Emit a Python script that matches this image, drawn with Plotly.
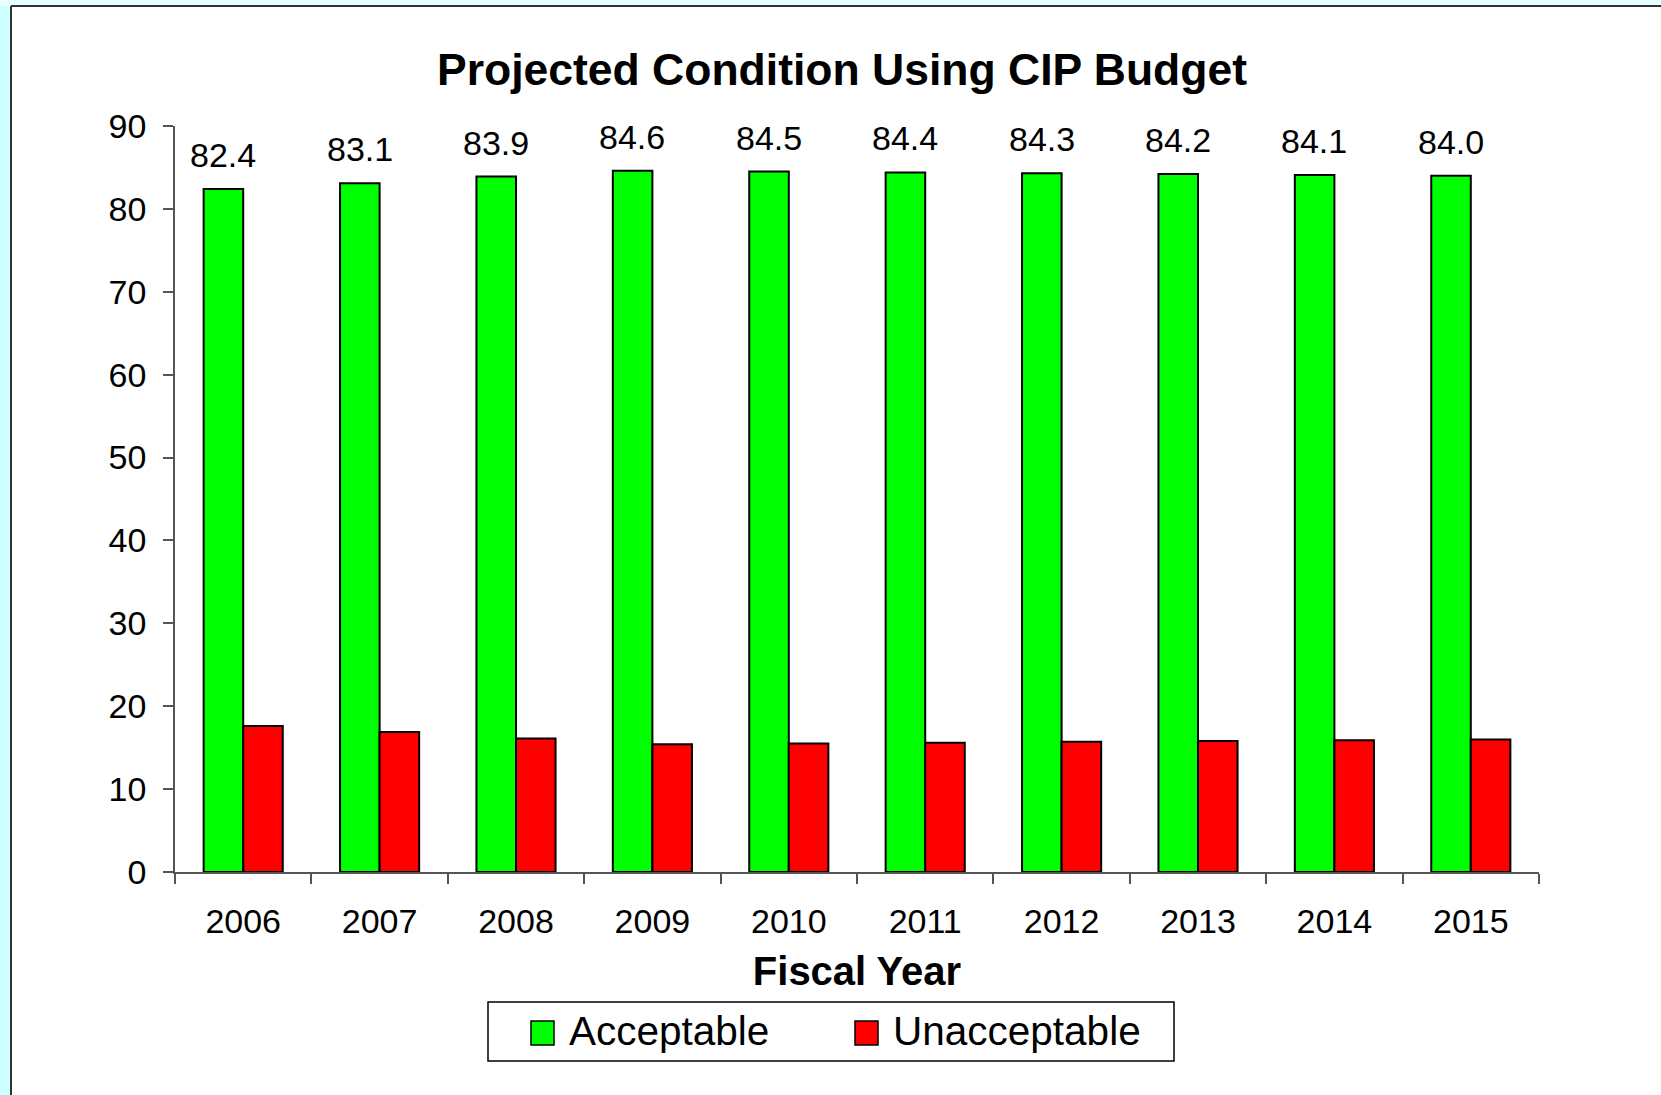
import plotly.graph_objects as go

# Data
years = ["2006", "2007", "2008", "2009", "2010", "2011", "2012", "2013", "2014", "2015"]
acceptable = [82.4, 83.1, 83.9, 84.6, 84.5, 84.4, 84.3, 84.2, 84.1, 84.0]
unacceptable = [17.6, 16.9, 16.1, 15.4, 15.5, 15.6, 15.7, 15.8, 15.9, 16.0]
series_names = ["Acceptable", "Unacceptable"]
series_colors = ["#00ff00", "#ff0000"]

FONT = "Liberation Sans, Arial, sans-serif"
W_PX, H_PX = 1661, 1095
# plot area in pixels
L, R, T, B = 175, 1539, 126, 872


def fx(px):
    return (px - L) / (R - L)


def fy(py):
    return (B - py) / (B - T)


fig = go.Figure()
for name, vals, col in zip(series_names, [acceptable, unacceptable], series_colors):
    fig.add_trace(go.Bar(
        x=years, y=vals, name=name,
        marker=dict(color=col, line=dict(color="black", width=2)),
        showlegend=False,
    ))

# value labels above the green bars (x given as category index)
annotations = []
for i, v in enumerate(acceptable):
    annotations.append(dict(
        x=i, y=v, xref="x", yref="y", text=f"{v:.1f}", showarrow=False,
        xanchor="center", yanchor="bottom", xshift=-20, yshift=13,
        font=dict(family=FONT, size=34, color="black"),
    ))

shapes = [
    # light cyan frame strips
    dict(type="rect", xref="paper", yref="paper", x0=fx(0), x1=fx(11), y0=fy(H_PX), y1=fy(0),
         fillcolor="#ccffff", line=dict(width=0), layer="below"),
    dict(type="rect", xref="paper", yref="paper", x0=fx(0), x1=fx(W_PX), y0=fy(6), y1=fy(0),
         fillcolor="#e8ffff", line=dict(width=0), layer="below"),
    # chart frame border
    dict(type="line", xref="paper", yref="paper", x0=fx(11), x1=fx(W_PX), y0=fy(6), y1=fy(6),
         line=dict(color="#333333", width=2)),
    dict(type="line", xref="paper", yref="paper", x0=fx(11), x1=fx(11), y0=fy(6), y1=fy(H_PX),
         line=dict(color="#333333", width=2)),
    # legend frame
    dict(type="rect", xref="paper", yref="paper", x0=fx(488), x1=fx(1174), y0=fy(1061), y1=fy(1002),
         fillcolor="white", line=dict(color="black", width=1.5)),
]
legend_items = [(531, 569), (855, 893)]
for (sx, tx), name, col in zip(legend_items, series_names, series_colors):
    shapes.append(dict(type="rect", xref="paper", yref="paper",
                       x0=fx(sx), x1=fx(sx + 23), y0=fy(1045), y1=fy(1021),
                       fillcolor=col, line=dict(color="black", width=1.5)))
    annotations.append(dict(
        x=fx(tx - 2), y=fy(1031), xref="paper", yref="paper", text=name, showarrow=False,
        xanchor="left", yanchor="middle",
        font=dict(family=FONT, size=40.5, color="black"),
    ))

fig.update_layout(
    width=W_PX, height=H_PX,
    margin=dict(l=L, r=W_PX - R, t=T, b=H_PX - B, autoexpand=False),
    paper_bgcolor="white", plot_bgcolor="white",
    barmode="group", bargap=0.42, bargroupgap=0,
    title=dict(
        text="<b>Projected Condition Using CIP Budget</b>",
        x=842 / W_PX, xref="container", xanchor="center",
        y=1 - 69 / H_PX, yref="container", yanchor="middle",
        font=dict(family=FONT, size=44.5, color="black"),
    ),
    font=dict(family=FONT, color="black"),
    xaxis=dict(
        type="category", categoryorder="array", categoryarray=years,
        range=[-0.5, len(years) - 0.5],
        showline=True, linecolor="#555555", linewidth=1.5,
        ticks="outside", ticklen=10, tickcolor="#555555", tickwidth=1.5,
        tickson="boundaries", showgrid=False, tickangle=0,
        tickfont=dict(family=FONT, size=34, color="black"),
        ticklabelstandoff=18,
        title=dict(text="<b>Fiscal Year</b>", standoff=18,
                   font=dict(family=FONT, size=40, color="black")),
        automargin=False,
    ),
    yaxis=dict(
        range=[0, 90], dtick=10, showline=True, linecolor="#555555", linewidth=1.5,
        ticks="outside", ticklen=10, tickcolor="#555555", tickwidth=1.5,
        showgrid=False, zeroline=False,
        tickfont=dict(family=FONT, size=34, color="black"),
        ticklabelstandoff=10, automargin=False,
    ),
    shapes=shapes,
    annotations=annotations,
)

fig.write_html("out.html")
